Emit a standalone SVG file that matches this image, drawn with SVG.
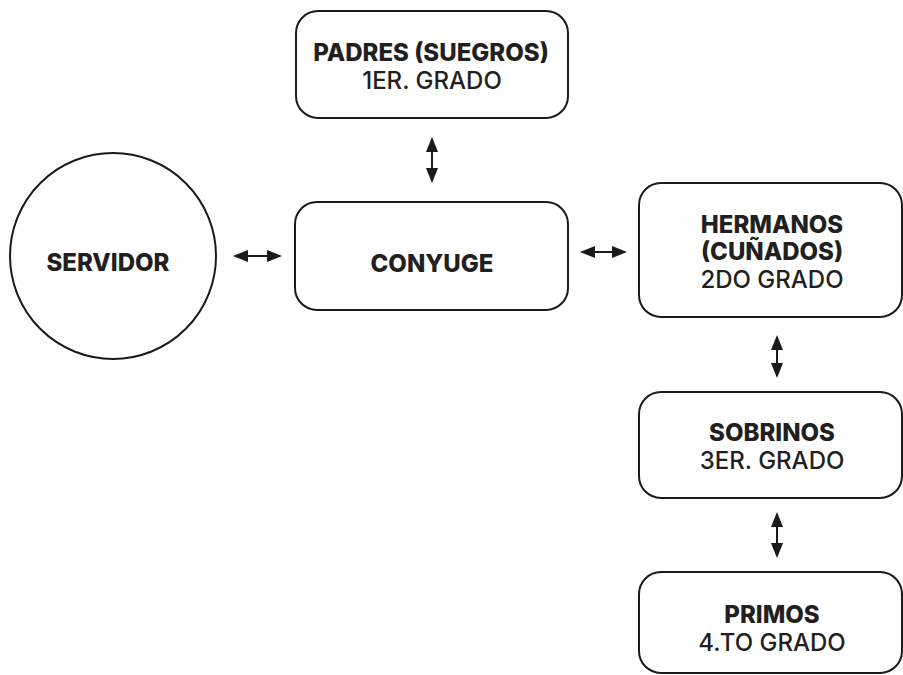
<svg xmlns="http://www.w3.org/2000/svg" width="903" height="675" viewBox="0 0 903 675">
<style>
.box{fill:#fff;stroke:#1a1a1a;stroke-width:2}
.b{font-family:Inter,"Noto Sans",sans-serif;font-weight:800;font-size:24px;fill:#231f20;text-anchor:middle}
.r{font-family:Inter,"Noto Sans",sans-serif;font-weight:500;font-size:24px;fill:#231f20;text-anchor:middle}
.c{stroke:#1a1a1a;stroke-width:2;fill:none;marker-start:url(#ah);marker-end:url(#ah)}
</style>
<defs>
<marker id="ah" viewBox="0 0 15 12" refX="13" refY="6" markerWidth="15" markerHeight="12" markerUnits="userSpaceOnUse" orient="auto-start-reverse">
<path d="M0,0 L15,6 L0,12 z" fill="#1a1a1a"/>
</marker>
</defs>
<rect width="903" height="675" fill="#fff"/>
<g id="connectors">
<line class="c" x1="432" y1="139" x2="432" y2="181"/>
<line class="c" x1="235" y1="256" x2="280" y2="256"/>
<line class="c" x1="582" y1="252" x2="625" y2="252"/>
<line class="c" x1="777" y1="337" x2="777" y2="376"/>
<line class="c" x1="777" y1="514" x2="777" y2="556"/>
</g>
<g id="padres">
<rect class="box" x="296" y="11" width="272" height="107" rx="22"/>
<text class="b" x="431" y="61">PADRES (SUEGROS)</text>
<text class="r" x="432" y="89">1ER. GRADO</text>
</g>
<g id="servidor">
<circle class="box" cx="113" cy="256" r="103"/>
<text class="b" x="108" y="271">SERVIDOR</text>
</g>
<g id="conyuge">
<rect class="box" x="295" y="202" width="273" height="108" rx="22"/>
<text class="b" x="432" y="272">CONYUGE</text>
</g>
<g id="hermanos">
<rect class="box" x="639" y="183" width="263" height="134" rx="22"/>
<text class="b" x="772" y="233">HERMANOS</text>
<text class="b" x="772" y="260">(CUÑADOS)</text>
<text class="r" x="772" y="288">2DO GRADO</text>
</g>
<g id="sobrinos">
<rect class="box" x="639" y="392" width="263" height="106" rx="22"/>
<text class="b" x="772" y="441">SOBRINOS</text>
<text class="r" x="772" y="469">3ER. GRADO</text>
</g>
<g id="primos">
<rect class="box" x="639" y="572" width="263" height="101" rx="22"/>
<text class="b" x="772" y="623">PRIMOS</text>
<text class="r" x="772" y="651">4.TO GRADO</text>
</g>
</svg>
